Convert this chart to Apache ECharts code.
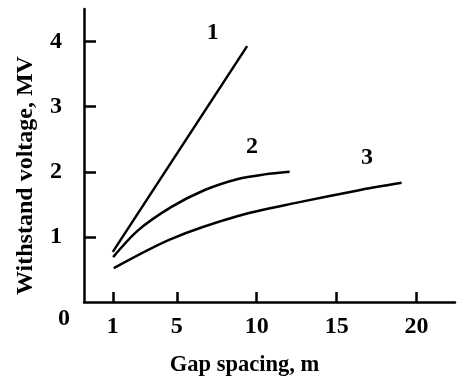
<!DOCTYPE html>
<html>
<head>
<meta charset="utf-8">
<title>Withstand voltage vs gap spacing</title>
<script src="https://cdn.jsdelivr.net/npm/echarts@6/dist/echarts.min.js"></script>
<style>
  html, body { margin: 0; padding: 0; background: #fff; }
  #container { width: 458px; height: 386px; }
</style>
</head>
<body>
<div id="container"></div>
<script>
// curve data: [gap spacing m, voltage MV]
var curve1 = [[1.0, 0.77], [9.4, 3.93]];
var curve2 = [[1.02, 0.69], [2.58, 1.10], [4.67, 1.46], [6.75, 1.72], [8.83, 1.89], [10.5, 1.96], [12.06, 2.0]];
var curve3 = [[1.06, 0.52], [4.67, 0.97], [8.83, 1.32], [12.6, 1.53], [16.25, 1.71], [19.06, 1.83]];
var curveNames = ['1', '2', '3'];
var namePos = [[7.25, 4.13], [9.7, 2.38], [16.9, 2.22]];
var xTicks = [1, 5, 10, 15, 20];
var yTicks = [1, 2, 3, 4];

var font = 'Liberation Serif';
var chart = echarts.init(document.getElementById('container'));

function lineSeries(data) {
  return {
    type: 'line',
    data: data,
    smooth: 0.3,
    symbol: 'none',
    lineStyle: { color: '#000', width: 2.5 },
    silent: true
  };
}

var option = {
  animation: false,
  grid: { left: 84, right: 3, top: 9, bottom: 84 },
  xAxis: {
    type: 'value',
    min: -0.8,
    max: 22.4,
    name: 'Gap spacing, m',
    nameLocation: 'middle',
    nameGap: 52,
    nameTextStyle: { fontFamily: font, fontWeight: 'bold', fontSize: 22.5, color: '#000', padding: [0, 50, 0, 0] },
    axisLine: { lineStyle: { color: '#000', width: 2.5 } },
    axisTick: { show: true, inside: true, length: 10, customValues: xTicks, lineStyle: { color: '#000', width: 2.5 } },
    axisLabel: { customValues: xTicks, margin: 13, fontFamily: font, fontWeight: 'bold', fontSize: 24, color: '#000' },
    splitLine: { show: false }
  },
  yAxis: {
    type: 'value',
    min: 0,
    max: 4.5,
    name: 'Withstand voltage, MV',
    nameLocation: 'middle',
    nameRotate: 90,
    nameGap: 46,
    nameTextStyle: { fontFamily: font, fontWeight: 'bold', fontSize: 24, color: '#000', padding: [0, 40, 0, 0] },
    axisLine: { show: true, onZero: false, lineStyle: { color: '#000', width: 2.5 } },
    axisTick: { show: true, inside: true, length: 12, customValues: yTicks, lineStyle: { color: '#000', width: 2.5 } },
    axisLabel: { customValues: yTicks, margin: 22, fontFamily: font, fontWeight: 'bold', fontSize: 24, color: '#000' },
    splitLine: { show: false }
  },
  graphic: [{
    type: 'text',
    left: 58,
    top: 307,
    style: { text: '0', font: 'bold 24px "Liberation Serif"', fill: '#000' }
  }],
  series: [
    lineSeries(curve1),
    lineSeries(curve2),
    lineSeries(curve3),
    {
      type: 'scatter',
      symbolSize: 0,
      silent: true,
      itemStyle: { opacity: 1 },
      data: namePos.map(function (p, i) { return { value: p, name: curveNames[i] }; }),
      label: {
        show: true,
        position: 'inside',
        formatter: '{b}',
        fontFamily: font,
        fontWeight: 'bold',
        fontSize: 24,
        color: '#000'
      }
    }
  ]
};
chart.setOption(option);
</script>
</body>
</html>
